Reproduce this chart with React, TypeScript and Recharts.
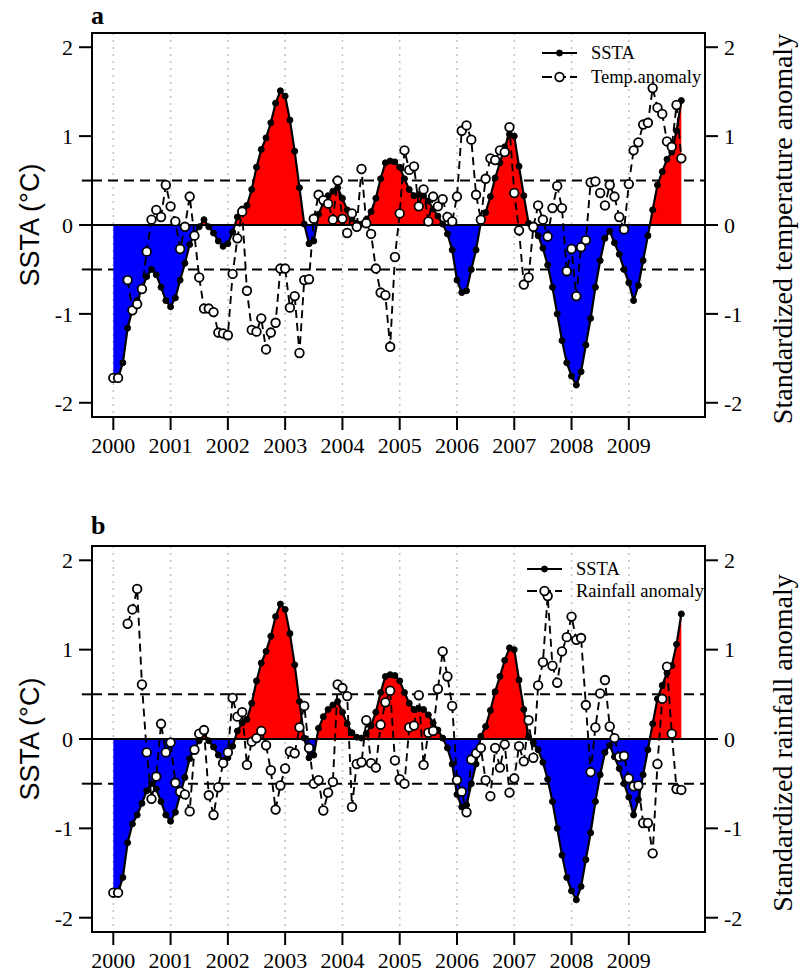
import React from 'react';
import {
  ComposedChart,
  Area,
  Line,
  XAxis,
  YAxis,
  CartesianGrid,
  ReferenceLine,
  ReferenceArea,
  Label,
} from 'recharts';

// ---------- data ----------
const startYear = 2000;
const yearTicks = [2000, 2001, 2002, 2003, 2004, 2005, 2006, 2007, 2008, 2009];
const yTicks = [-2, -1, 0, 1, 2];
const thresholds = [0.5, -0.5];

// monthly SSTA, Jan 2000 - Dec 2009
const sstaValues = [
  -1.72, -1.72, -1.55, -1.16, -0.95, -0.85, -0.72, -0.58, -0.5, -0.56, -0.7, -0.85,
  -0.92, -0.82, -0.62, -0.43, -0.22, -0.11, -0.02, 0.06, -0.02, -0.09, -0.18, -0.24,
  -0.21, -0.08, 0.09, 0.18, 0.22, 0.4, 0.65, 0.85, 0.98, 1.15, 1.37, 1.51,
  1.45, 1.18, 0.83, 0.42, 0.01, -0.21, -0.18, 0.12, 0.25, 0.33, 0.38, 0.42,
  0.3, 0.17, 0.07, 0.02, 0.01, 0.06, 0.15, 0.3, 0.52, 0.7, 0.72, 0.71,
  0.65, 0.52, 0.4, 0.33, 0.34, 0.33, 0.27, 0.18, 0.1, 0.01, -0.1, -0.28,
  -0.62, -0.76, -0.74, -0.5, -0.28, 0.03, 0.14, 0.32, 0.53, 0.7, 0.88, 1.02,
  1.0, 0.66, 0.33, 0.02, -0.04, -0.12, -0.26, -0.45, -0.7, -1.0, -1.3, -1.55,
  -1.7, -1.8, -1.65, -1.35, -1.05, -0.7, -0.4, -0.15, -0.07, -0.2, -0.33, -0.5,
  -0.65, -0.85, -0.68, -0.4, -0.12, 0.17, 0.45, 0.6, 0.74, 0.82, 1.06, 1.4,
];

// standardized temperature anomaly (panel a)
const tempAnomaly: (number | null)[] = [
  -1.72, -1.72, null, -0.62, -0.96, -0.89, -0.72, -0.3, 0.06, 0.17, 0.09, 0.45,
  0.21, 0.04, -0.27, -0.02, 0.32, -0.12, -0.59, -0.94, -0.94, -0.98, -1.21, -1.22,
  -1.24, -0.55, -0.15, 0.15, -0.74, -1.18, -1.2, -1.05, -1.4, -1.21, -1.1, -0.49,
  -0.49, -0.93, -0.8, -1.44, -0.62, -0.61, 0.07, 0.34, 0.28, 0.24, 0.06, 0.5,
  0.07, -0.09, 0.13, -0.02, 0.63, 0.02, -0.1, -0.49, -0.76, -0.79, -1.37, -0.36,
  0.13, 0.84, 0.62, 0.66, 0.21, 0.4, 0.04, 0.32, 0.21, 0.29, 0.09, 0.04,
  0.32, 1.06, 1.12, 0.96, 0.34, 0.06, 0.52, 0.75, 0.73, 0.84, 0.82, 1.1,
  0.36, -0.06, -0.67, -0.59, -0.02, 0.22, 0.06, -0.13, 0.19, 0.44, 0.19, -0.52,
  -0.27, -0.8, -0.25, -0.17, 0.48, 0.49, 0.36, 0.22, 0.45, 0.32, 0.09, -0.05,
  0.46, 0.84, 0.93, 1.13, 1.15, 1.54, 1.32, 1.25, 0.94, 0.88, 1.35, 0.75,
];

// standardized rainfall anomaly (panel b)
const rainAnomaly: (number | null)[] = [
  -1.72, -1.72, null, 1.29, 1.45, 1.68, 0.61, -0.15, -0.67, -0.42, 0.17, -0.15,
  -0.04, -0.49, -0.59, -0.62, -0.81, -0.12, 0.06, 0.1, -0.63, -0.85, -0.54, -0.27,
  -0.15, 0.46, 0.25, 0.3, -0.29, -0.03, 0.01, 0.09, -0.07, -0.35, -0.79, -0.52,
  -0.33, -0.14, -0.16, 0.13, 0.37, -0.1, -0.5, -0.46, -0.8, -0.6, -0.48, 0.61,
  0.57, 0.48, -0.76, -0.28, -0.26, 0.21, -0.27, -0.32, 0.16, 0.41, 0.54, -0.24,
  -0.45, -0.5, 0.13, 0.15, 0.49, -0.29, 0.07, 0.09, 0.56, 0.98, 0.7, 0.37,
  -0.46, -0.59, -0.82, -0.23, -0.16, -0.1, -0.46, -0.64, -0.1, -0.32, -0.06, -0.6,
  -0.44, -0.08, -0.25, 0.21, -0.21, 0.6, 0.86, 1.6, 0.82, 0.63, 0.98, 1.14,
  1.37, 1.11, 1.13, 0.38, -0.37, 0.13, 0.51, 0.66, 0.14, 0.01, -0.2, -0.19,
  -0.44, -0.53, -0.52, -0.94, -0.94, -1.28, -0.28, 0.45, 0.81, 0.06, -0.56, -0.57,
];

const X_DOMAIN: [number, number] = [1999.628, 2010.33];
const Y_DOMAIN: [number, number] = [-2.16, 2.16];
const SERIF = '"Liberation Serif", "Times New Roman", serif';
const SANS = '"Liberation Sans", Arial, sans-serif';

function buildRows(anom: (number | null)[]) {
  return sstaValues.map((v, i) => ({ t: startYear + i / 12, ssta: v, anom: anom[i] }));
}

const sMax = Math.max(...sstaValues);
const sMin = Math.min(...sstaValues);
const splitOffset = sMax / (sMax - sMin);

type PanelProps = {
  id: string;
  top: number;
  height: number;
  rightLabel: string;
  anomaly: (number | null)[];
};

function Panel({ id, top, height, rightLabel, anomaly }: PanelProps) {
  const rows = buildRows(anomaly);
  const leftLabel = (props: any) => {
    const vb = props.viewBox || {};
    const cx = vb.x + 30;
    const cy = vb.y + vb.height / 2;
    return (
      <text
        x={cx}
        y={cy}
        transform={`rotate(-90 ${cx} ${cy})`}
        textAnchor="middle"
        dominantBaseline="central"
        fontFamily={SANS}
        fontSize={27}
        fill="#000"
      >
        SSTA (°C)
      </text>
    );
  };
  const rLabel = (props: any) => {
    const vb = props.viewBox || {};
    const cx = vb.x + 77;
    const cy = vb.y + vb.height / 2 + 4;
    return (
      <text
        x={cx}
        y={cy}
        transform={`rotate(-90 ${cx} ${cy})`}
        textAnchor="middle"
        dominantBaseline="central"
        fontFamily={SERIF}
        fontSize={28}
        fill="#000"
      >
        {rightLabel}
      </text>
    );
  };
  const tickStyle = { fontSize: 22, fontFamily: SERIF, fill: '#000' };
  return (
    <div style={{ position: 'absolute', left: 0, top }}>
      <ComposedChart
        width={800}
        height={height}
        data={rows}
        margin={{ top: 33, right: 0, bottom: 0, left: 0 }}
      >
        <defs>
          <linearGradient id={`split-${id}`} x1="0" y1="0" x2="0" y2="1">
            <stop offset={splitOffset} stopColor="#FF0000" stopOpacity={1} />
            <stop offset={splitOffset} stopColor="#0000FF" stopOpacity={1} />
          </linearGradient>
        </defs>
        <CartesianGrid
          yAxisId="left"
          horizontal={false}
          vertical={true}
          stroke="#c4c4c4"
          strokeDasharray="2 5"
          strokeWidth={1.6}
        />
        <CartesianGrid
          yAxisId="left"
          horizontal={true}
          vertical={false}
          horizontalValues={thresholds}
          stroke="#000"
          strokeDasharray="10 6"
          strokeWidth={2}
        />
        <XAxis
          type="number"
          dataKey="t"
          domain={X_DOMAIN}
          ticks={yearTicks}
          allowDataOverflow
          height={53}
          tickSize={13}
          tickMargin={7}
          axisLine={false}
          tickLine={{ stroke: '#000', strokeWidth: 2 }}
          tick={tickStyle}
          interval={0}
        />
        <YAxis
          yAxisId="left"
          orientation="left"
          domain={Y_DOMAIN}
          ticks={yTicks}
          allowDataOverflow
          width={92}
          tickSize={13}
          tickMargin={6}
          axisLine={false}
          tickLine={{ stroke: '#000', strokeWidth: 2 }}
          tick={tickStyle}
          interval={0}
        >
          <Label content={leftLabel} />
        </YAxis>
        <YAxis
          yAxisId="right"
          orientation="right"
          domain={Y_DOMAIN}
          ticks={yTicks}
          allowDataOverflow
          width={95}
          tickSize={13}
          tickMargin={6}
          axisLine={false}
          tickLine={{ stroke: '#000', strokeWidth: 2 }}
          tick={tickStyle}
          interval={0}
        >
          <Label content={rLabel} />
        </YAxis>
        {thresholds.map((h) => (
          <ReferenceLine
            key={h}
            yAxisId="left"
            segment={[
              { x: 1999.45, y: h },
              { x: X_DOMAIN[0], y: h },
            ]}
            ifOverflow="visible"
            stroke="#000"
            strokeWidth={2}
          />
        ))}
        <Area
          yAxisId="left"
          type="linear"
          dataKey="ssta"
          baseValue={0}
          stroke="#000"
          strokeWidth={2.2}
          fill={`url(#split-${id})`}
          fillOpacity={1}
          dot={{ r: 3, fill: '#000', stroke: '#000', strokeWidth: 1 }}
          activeDot={false}
          isAnimationActive={false}
        />
        <ReferenceLine yAxisId="left" y={0} stroke="#000" strokeWidth={2} />
        <Line
          yAxisId="left"
          type="linear"
          dataKey="anom"
          stroke="#000"
          strokeWidth={1.9}
          strokeDasharray="8 5"
          connectNulls={false}
          dot={{ r: 4.3, fill: '#fff', stroke: '#000', strokeWidth: 1.8, strokeDasharray: 'none' }}
          activeDot={false}
          isAnimationActive={false}
        />
        <ReferenceArea
          yAxisId="left"
          x1={X_DOMAIN[0]}
          x2={X_DOMAIN[1]}
          y1={Y_DOMAIN[0]}
          y2={Y_DOMAIN[1]}
          ifOverflow="visible"
          fill="none"
          fillOpacity={0}
          stroke="#000"
          strokeWidth={2}
        />
      </ComposedChart>
    </div>
  );
}

function LegendBox({ left, top, gap, label }: { left: number; top: number; gap: number; label: string }) {
  const y1 = 12;
  const y2 = 12 + gap;
  return (
    <svg
      width={220}
      height={60}
      style={{ position: 'absolute', left, top, overflow: 'visible' }}
    >
      <line x1={0} y1={y1} x2={35} y2={y1} stroke="#000" strokeWidth={2.2} />
      <circle cx={17.5} cy={y1} r={3} fill="#000" stroke="#000" />
      <text x={49} y={y1} dominantBaseline="central" fontFamily={SERIF} fontSize={18.5} fill="#000">
        SSTA
      </text>
      <line x1={0} y1={y2} x2={35} y2={y2} stroke="#000" strokeWidth={1.9} strokeDasharray="10 4" />
      <circle cx={17.5} cy={y2} r={4.3} fill="#fff" stroke="#000" strokeWidth={1.8} />
      <text x={49} y={y2} dominantBaseline="central" fontFamily={SERIF} fontSize={18.5} fill="#000">
        {label}
      </text>
    </svg>
  );
}

function PanelTitle({ text, left, top, baseline }: { text: string; left: number; top: number; baseline: number }) {
  return (
    <svg width={40} height={40} style={{ position: 'absolute', left, top, overflow: 'visible' }}>
      <text x={0} y={baseline} fontFamily={SERIF} fontWeight="bold" fontSize={26} fill="#000">
        {text}
      </text>
    </svg>
  );
}

export default function App() {
  return (
    <div style={{ position: 'absolute', left: 0, top: 0, width: 800, height: 979, background: '#fff' }}>
      <Panel id="a" top={0} height={470} rightLabel="Standardized temperature anomaly" anomaly={tempAnomaly} />
      <Panel id="b" top={513} height={472} rightLabel="Standardized rainfall anomaly" anomaly={rainAnomaly} />
      <PanelTitle text="a" left={91} top={0} baseline={24} />
      <PanelTitle text="b" left={91} top={510} baseline={24} />
      <LegendBox left={542} top={41} gap={24} label="Temp.anomaly" />
      <LegendBox left={527} top={557} gap={22} label="Rainfall anomaly" />
    </div>
  );
}
